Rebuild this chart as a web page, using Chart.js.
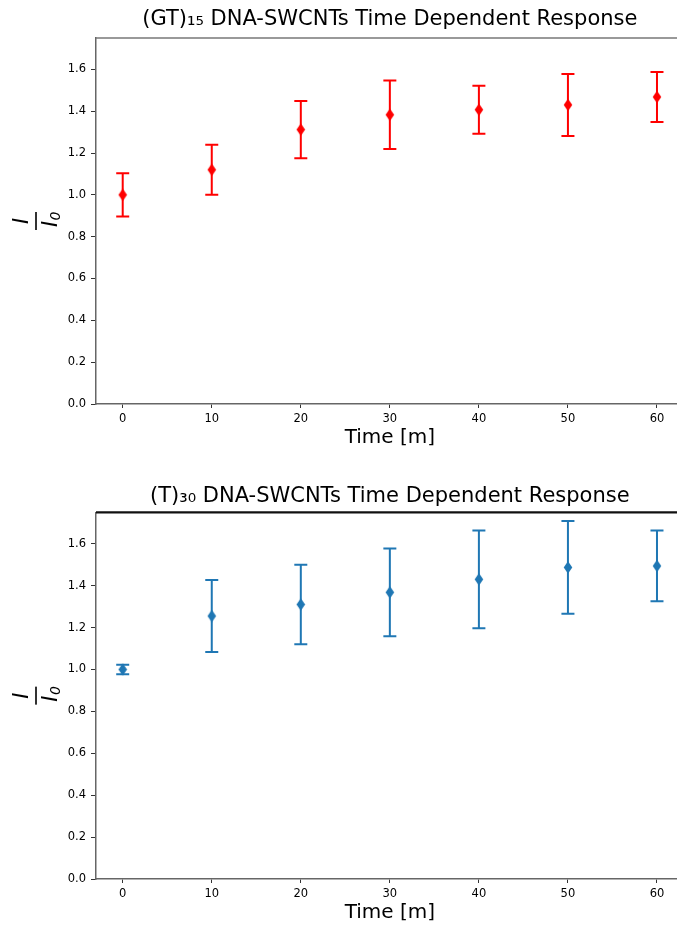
<!DOCTYPE html>
<html>
<head>
<meta charset="utf-8">
<script src="https://cdn.jsdelivr.net/npm/chart.js@4"></script>
<style>
  html, body { margin: 0; padding: 0; background: #fff; overflow: hidden; width: 677px; height: 925px; }
  .wrap { position: absolute; left: 0; }
</style>
</head>
<body>
<div class="wrap" style="top:0"><canvas id="topChart" width="700" height="462"></canvas></div>
<div class="wrap" style="top:462px"><canvas id="bottomChart" width="700" height="463"></canvas></div>
<script>
// data
const times = [0, 10, 20, 30, 40, 50, 60];
const gtMean = [1.00, 1.12, 1.312, 1.383, 1.407, 1.43, 1.468];
const gtErr = [0.103, 0.12, 0.137, 0.164, 0.115, 0.148, 0.12];
const tMean = [1.00, 1.255, 1.31, 1.368, 1.43, 1.487, 1.494];
const tErr = [0.023, 0.172, 0.19, 0.209, 0.233, 0.221, 0.169];
const xTicks = [0, 10, 20, 30, 40, 50, 60];
const yTicks = [0, 0.2, 0.4, 0.6, 0.8, 1.0, 1.2, 1.4, 1.6];

const FONT = "'DejaVu Sans', sans-serif";

// thin diamond marker like matplotlib 'd'
function diamond(color) {
    const c = document.createElement('canvas');
    c.width = 10; c.height = 13;
    const g = c.getContext('2d');
    g.fillStyle = color;
    g.beginPath();
    g.moveTo(5, 0.3);
    g.lineTo(9.3, 6.5);
    g.lineTo(5, 12.7);
    g.lineTo(0.7, 6.5);
    g.closePath();
    g.fill();
    return c;
}

const errorBars = {
    id: 'errorBars',
    beforeDatasetsDraw(chart) {
        const {ctx, scales: {x, y}} = chart;
        chart.data.datasets.forEach(ds => {
            if (!ds.errors) return;
            ctx.save();
            ctx.strokeStyle = ds.borderColor;
            ctx.lineWidth = 2;
            ds.data.forEach((p, i) => {
                const px = x.getPixelForValue(p.x);
                const yt = y.getPixelForValue(p.y + ds.errors[i]);
                const yb = y.getPixelForValue(p.y - ds.errors[i]);
                ctx.beginPath();
                ctx.moveTo(px, yt); ctx.lineTo(px, yb);
                ctx.moveTo(px - 6.5, yt); ctx.lineTo(px + 6.5, yt);
                ctx.moveTo(px - 6.5, yb); ctx.lineTo(px + 6.5, yb);
                ctx.stroke();
            });
            ctx.restore();
        });
    }
};

const frame = {
    id: 'frame',
    afterDraw(chart, args, opts) {
        const {ctx, chartArea: a} = chart;
        ctx.save();
        // top spine
        ctx.strokeStyle = opts.topColor;
        ctx.lineWidth = opts.topWidth;
        ctx.beginPath();
        ctx.moveTo(a.left, a.top); ctx.lineTo(a.right, a.top);
        ctx.stroke();
        // title, centred over the axes
        ctx.fillStyle = '#000';
        ctx.textAlign = 'center';
        ctx.textBaseline = 'middle';
        ctx.font = "21px " + FONT;
        ctx.fillText(opts.title, (a.left + a.right) / 2, opts.titleY);
        // y label: I over I0, rotated
        const cy = (a.top + a.bottom) / 2;
        ctx.translate(36, cy);
        ctx.rotate(-Math.PI / 2);
        ctx.textBaseline = 'alphabetic';
        ctx.font = "oblique 21px " + FONT;
        ctx.fillText('I', 0, -8);
        ctx.fillRect(-9, -0.8, 18, 1.6);
        ctx.fillText('I', -3, 21);
        ctx.font = "oblique 14px " + FONT;
        ctx.fillText('0', 5, 24);
        ctx.restore();
    }
};

function makeChart(id, title, mean, err, color, o) {
    const pts = times.map((t, i) => ({x: t, y: mean[i]}));
    return new Chart(document.getElementById(id), {
        type: 'scatter',
        data: {
            datasets: [{
                data: pts,
                errors: err,
                borderColor: color,
                backgroundColor: color,
                pointStyle: diamond(color),
                pointRadius: 5,
                pointHoverRadius: 5
            }]
        },
        plugins: [errorBars, frame],
        options: {
            responsive: false,
            animation: false,
            devicePixelRatio: 1,
            layout: {padding: {left: 0, right: 16.3, top: o.top, bottom: 0}},
            plugins: {
                legend: {display: false},
                tooltip: {enabled: false},
                title: {display: false},
                frame: {topColor: o.topColor, topWidth: o.topWidth, title: title, titleY: o.titleY}
            },
            scales: {
                x: {
                    type: 'linear',
                    min: -3,
                    max: 63,
                    afterBuildTicks: s => { s.ticks = xTicks.map(v => ({value: v})); },
                    afterFit: s => { s.height = o.xHeight; },
                    grid: {display: true, drawOnChartArea: false, drawTicks: true, tickLength: 4, color: '#333', tickWidth: 1},
                    border: {display: true, color: '#666', width: 1.5},
                    ticks: {color: '#000', padding: 4, font: {family: FONT, size: 11.5}},
                    title: {
                        display: true,
                        text: 'Time [m]',
                        color: '#000',
                        font: {family: FONT, size: 20},
                        padding: {top: 0, bottom: o.xTitlePad}
                    }
                },
                y: {
                    min: 0,
                    max: 1.75,
                    afterBuildTicks: s => { s.ticks = yTicks.map(v => ({value: v})); },
                    afterFit: s => { s.width = 96; },
                    grid: {display: true, drawOnChartArea: false, drawTicks: true, tickLength: 5, color: '#333', tickWidth: 1},
                    border: {display: true, color: '#666', width: 1.5},
                    ticks: {color: '#000', padding: 5, font: {family: FONT, size: 11.5},
                        callback: v => v.toFixed(1)}
                }
            }
        }
    });
}

makeChart('topChart', '(GT)\u2081\u2085 DNA-SWCNTs Time Dependent Response', gtMean, gtErr, '#ff0000',
    {top: 38, titleY: 20, xHeight: 58, xTitlePad: 12, topColor: '#777', topWidth: 1.5});
makeChart('bottomChart', '(T)\u2083\u2080 DNA-SWCNTs Time Dependent Response', tMean, tErr, '#1f77b4',
    {top: 50.3, titleY: 34.5, xHeight: 46, xTitlePad: 0, topColor: '#111', topWidth: 2.2});
</script>
</body>
</html>
